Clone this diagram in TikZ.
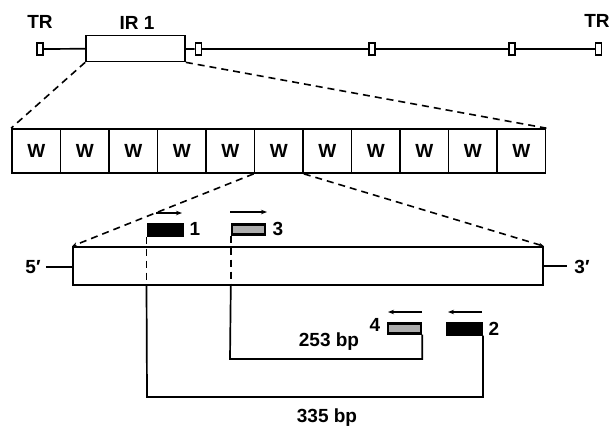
\documentclass[tikz,border=0pt]{standalone}
\usepackage{fontspec}
\setmainfont{Liberation Sans}
\usetikzlibrary{arrows.meta,calc}
\begin{document}
\begin{tikzpicture}[x=1pt,y=-1pt,
  every node/.style={font=\fontsize{19}{21}\selectfont\bfseries},
  ln/.style={line width=1.7pt},
  tick/.style={draw,line width=1.7pt,minimum width=6pt,minimum height=12pt,inner sep=0pt},
  wbox/.style={draw,line width=1.7pt,minimum width=48.5pt,minimum height=44pt,inner sep=0pt},
  zoomline/.style={line width=1.6pt,dash pattern=on 7pt off 5pt},
  blackprimer/.style={draw,fill=black,line width=1pt,minimum width=36pt,minimum height=13pt,inner sep=0pt},
  grayprimer/.style={draw,fill=gray!65,line width=2.4pt,minimum width=33pt,minimum height=10pt,inner sep=0pt},
  dir/.style={line width=1.3pt,-{Stealth[length=6pt,width=4.5pt]}},
  lbl/.style={inner sep=0pt}]
\useasboundingbox (0,0) rectangle (612,432);
\fill[white] (0,0) rectangle (612,432);

% top row
\node[lbl] (trl) at (40,22) {TR};
\node[lbl] (irl) at (137,23) {IR 1};
\node[lbl] (trr) at (597,21) {TR};
\node[tick] (t1) at (40,49) {};
\node[draw,line width=1.7pt,minimum width=99pt,minimum height=26pt,inner sep=0pt] (ir) at (135.5,48.5) {};
\node[tick] (t2) at (198.5,49) {};
\node[tick] (t3) at (372,49) {};
\node[tick] (t4) at (512,49) {};
\node[tick] (t5) at (598.5,49) {};
\draw[ln] (t1) -- (ir);
\draw[ln] (ir) -- (t2);
\draw[ln] (t2) -- (t3);
\draw[ln] (t3) -- (t4);
\draw[ln] (t4) -- (t5);

% W row
\foreach \i in {1,...,11} {
  \node[wbox] (w\i) at ({12+48.5*(\i-0.5)},151) {W};
}
\draw[zoomline] (ir.south west) -- (w1.north west);
\draw[zoomline] (ir.south east) -- (w11.north east);

% expanded W element
\node[draw,line width=1.7pt,minimum width=470pt,minimum height=38pt,inner sep=0pt] (big) at (308,266) {};
\draw[zoomline,-{Stealth[length=5pt,width=4pt]}] (w6.south west) -- (big.north west);
\draw[zoomline,-{Stealth[length=5pt,width=4pt]}] (w6.south east) -- (big.north east);
\node[lbl] (five) at (33,267) {5\char"2032};
\node[lbl] (three) at (582,267) {3\char"2032};
\draw[ln] (five.east) ++(5,0) coordinate (fe) -- (fe -| big.west);
\draw[ln] (big.east) -- (567,266) coordinate (te);

% primers
\node[blackprimer] (p1) at (165,229.5) {};
\node[grayprimer] (p3) at (248.5,229.5) {};
\node[grayprimer] (p4) at (404.5,328.5) {};
\node[blackprimer] (p2) at (464.5,328.5) {};
\node[lbl] (l1) at (195,229) {1};
\node[lbl] (l3) at (278,229) {3};
\node[lbl] (l4) at (375,325) {4};
\node[lbl] (l2) at (494,329) {2};
\draw[dir] (156,213) -- (182,213);
\draw[dir] (230,212) -- (267,212);
\draw[dir] (422,312) -- (388,312);
\draw[dir] (482,312) -- (448,312);

% PCR products
\coordinate (c1) at (p1.south west);
\coordinate (c3) at (p3.south west);
\draw[line width=1.6pt,dash pattern=on 7pt off 5pt] (c1) -- (c1 |- big.south);
\draw[line width=1.6pt,dash pattern=on 7pt off 5pt] (c3) -- (c3 |- big.south);
\coordinate (b335) at (147,397);
\coordinate (b253) at (230,359);
\draw[ln] (c1 |- big.south) -- (b335) -| (p2.south east);
\draw[ln] (c3 |- big.south) -- (b253) -| (p4.south east);
\node[lbl] (t253) at (329,342) {253 bp};
\node[lbl] (t335) at (327,418) {335 bp};
\end{tikzpicture}
\end{document}
